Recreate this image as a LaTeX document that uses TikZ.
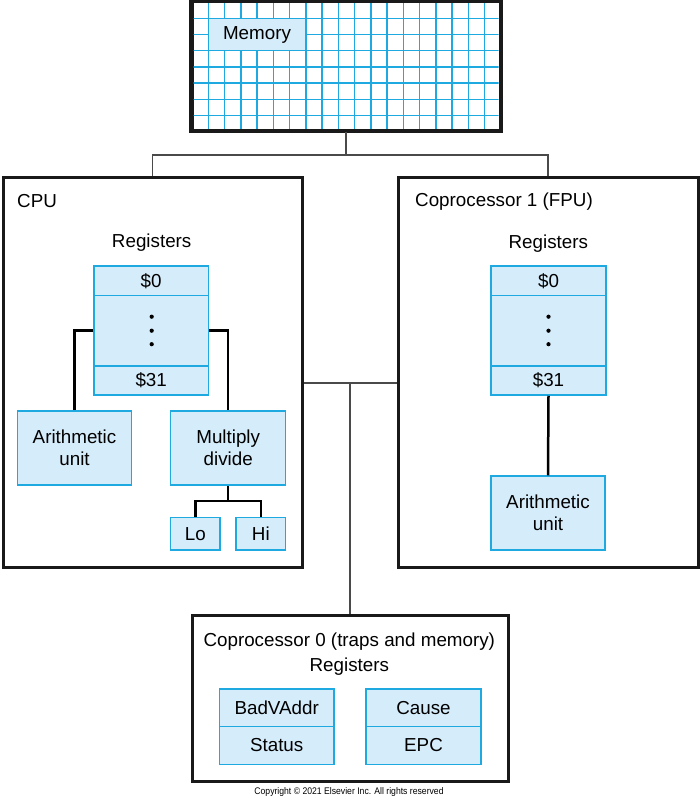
\documentclass[tikz,border=0pt]{standalone}
\usepackage{fontspec}
\setmainfont{Liberation Sans}
\usetikzlibrary{calc}
\definecolor{regfill}{HTML}{D5ECFA}
\definecolor{regline}{HTML}{1FA9E1}
\definecolor{busgray}{HTML}{4A4A4A}
\tikzset{
  bluebox/.style={draw=regline, fill=regfill, line width=1.5pt, inner sep=0pt, align=center},
  unitbox/.style={draw=black!90, line width=3pt, fill=white, inner sep=0pt},
  wire/.style={draw=black, line width=2.5pt},
  bus/.style={draw=busgray, line width=1.6pt},
  lbl/.style={inner sep=0pt, align=center}
}
\begin{document}
\begin{tikzpicture}[x=1pt,y=-1pt, font=\fontsize{18.8}{21.7}\selectfont]
\useasboundingbox (0,0) rectangle (700,800);

% ---------- Memory ----------
\node[unitbox, minimum width=308pt, minimum height=128pt] (mem) at (346,66) {};
\begin{scope}
  \clip (193.5,3.5) rectangle (498.5,128.5);
  \foreach \k in {0,...,17} {
    \draw[regline, line width=1.5pt] ({208.3+16.25*\k},0) -- ({208.3+16.25*\k},135);
  }
  \foreach \k in {0,...,6} {
    \draw[regline, line width=1.5pt] (190,{18.3+16.2*\k}) -- (505,{18.3+16.2*\k});
  }
\end{scope}
\draw[black!90, line width=3pt] (mem.north west) rectangle (mem.south east);
\node[bluebox, minimum width=97.5pt, minimum height=32.4pt] (memlbl) at (257,34.5) {Memory};

% ---------- CPU ----------
\node[unitbox, minimum width=299pt, minimum height=390pt] (cpu) at (152.5,372) {};
\node[lbl, anchor=west] (cputitle) at (17,201) {CPU};
\node[lbl] (cpuregt) at (151.7,242.7) {Registers};
\node[bluebox, minimum width=114.3pt, minimum height=29.3pt] (cr0) at (151.2,280.7) {\$0};
\node[bluebox, minimum width=114.3pt, minimum height=70.7pt] (crm) at (151.2,330.7) {};
\node[bluebox, minimum width=114.3pt, minimum height=29pt] (cr31) at (151.2,380.5) {\$31};
\foreach \d in {-14,0,13.5} \fill ($(crm.center)+(0.5,\d)$) circle (2.1pt);

\node[bluebox, minimum width=114.3pt, minimum height=74pt] (carith) at (74.5,448) {Arithmetic\\unit};
\node[bluebox, minimum width=115pt, minimum height=74pt] (cmul) at (228.2,448) {Multiply\\divide};
\node[bluebox, minimum width=49.3pt, minimum height=32.3pt] (clo) at (195.3,533.8) {Lo};
\node[bluebox, minimum width=49.7pt, minimum height=32.3pt] (chi) at (260.8,533.8) {Hi};

\draw[wire] (crm.west) -| (carith.north);
\draw[wire] (crm.east) -| (cmul.north);
\coordinate (mdj) at (cmul.south |- 0,501);
\draw[wire] (cmul.south) -- (mdj);
\draw[wire] (clo.north) |- (mdj) -| (chi.north);

% ---------- Coprocessor 1 ----------
\node[unitbox, minimum width=300pt, minimum height=390pt] (fpu) at (548,372) {};
\node[lbl, anchor=west] (fputitle) at (415,202) {Coprocessor 1 (FPU)};
\node[lbl] (fpuregt) at (548.3,243.3) {Registers};
\node[bluebox, minimum width=115pt, minimum height=29.3pt] (fr0) at (548.5,280.7) {\$0};
\node[bluebox, minimum width=115pt, minimum height=70.7pt] (frm) at (548.5,330.7) {};
\node[bluebox, minimum width=115pt, minimum height=29pt] (fr31) at (548.5,380.5) {\$31};
\foreach \d in {-14,0,13.5} \fill ($(frm.center)+(0,\d)$) circle (2.1pt);
\node[bluebox, minimum width=114pt, minimum height=74pt] (farith) at (548,513) {Arithmetic\\unit};
\draw[wire] (fr31.south) -- (farith.north);

% ---------- Coprocessor 0 ----------
\node[unitbox, minimum width=316pt, minimum height=166pt] (cp0) at (350,698) {};
\node[lbl] (cp0title) at (349.3,641.7) {Coprocessor 0 (traps and memory)};
\node[lbl] (cp0regt) at (349.3,666.7) {Registers};
\node[bluebox, minimum width=114.7pt, minimum height=37.7pt] (bad) at (276.7,707.8) {BadVAddr};
\node[bluebox, minimum width=114.7pt, minimum height=37.7pt] (stat) at (276.7,745.5) {Status};
\node[bluebox, minimum width=115pt, minimum height=37.7pt] (cause) at (423.5,707.8) {Cause};
\node[bluebox, minimum width=115pt, minimum height=37.7pt] (epc) at (423.5,745.5) {EPC};

% ---------- Buses ----------
\coordinate (mj) at (mem.south |- 0,155);
\draw[bus] (mem.south) -- (mj);
\draw[bus] (cpu.north) |- (mj) -| (fpu.north);
\coordinate (bl) at (cpu.east |- 0,383);
\coordinate (br) at (fpu.west |- 0,383);
\coordinate (bj) at (cp0.north |- 0,383);
\draw[bus] (bl) -- (br);
\draw[bus] (bj) -- (cp0.north);

% ---------- Copyright ----------
\node[lbl, font=\fontsize{9.6}{11}\selectfont, xscale=0.9] (copy) at (349,792) {Copyright \textcopyright{} 2021 Elsevier Inc. All rights reserved};
\end{tikzpicture}
\end{document}
